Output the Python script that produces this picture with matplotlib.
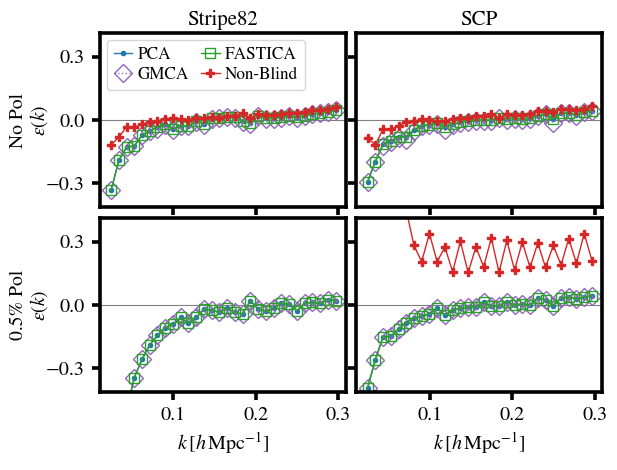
import numpy as np
import matplotlib
matplotlib.use('Agg')
import matplotlib.pyplot as plt

plt.rcParams['font.family'] = ['STIXGeneral', 'DejaVu Serif']
plt.rcParams['mathtext.fontset'] = 'stix'

k = [0.0245, 0.0339, 0.0433, 0.0527, 0.0621, 0.0715, 0.0808, 0.0902, 0.0996, 0.1090,
     0.1184, 0.1278, 0.1372, 0.1466, 0.1560, 0.1654, 0.1747, 0.1841, 0.1935, 0.2029,
     0.2123, 0.2217, 0.2311, 0.2405, 0.2499, 0.2593, 0.2686, 0.2780, 0.2874, 0.2968]

# Stripe82, no polarisation
s82_nopol_pca = [-0.333, -0.191, -0.128, -0.123, -0.071, -0.052, -0.033, -0.020, -0.040, -0.028,
                 -0.028, -0.005, -0.017, 0.008, 0.008, 0.014, 0.014, -0.005, -0.014, 0.019,
                 0.008, 0.008, 0.014, 0.019, 0.014, 0.019, 0.027, 0.035, 0.040, 0.047]
s82_nopol_gmca = [-0.333, -0.191, -0.128, -0.123, -0.071, -0.052, -0.040, -0.025, -0.048, -0.030,
                  -0.030, -0.008, -0.022, 0.005, 0.008, 0.014, 0.010, -0.010, -0.018, 0.019,
                  0.005, 0.005, 0.012, 0.019, 0.010, 0.019, 0.027, 0.035, 0.040, 0.047]
s82_nopol_ica = s82_nopol_pca
s82_nopol_nb = [-0.118, -0.081, -0.032, -0.034, -0.020, -0.008, -0.005, 0.003, 0.008, 0.003,
                -0.002, 0.008, 0.008, 0.014, 0.011, 0.019, 0.019, 0.035, 0.008, 0.027,
                0.024, 0.024, 0.030, 0.035, 0.035, 0.040, 0.046, 0.049, 0.051, 0.062]

# SCP, no polarisation
scp_nopol_pca = [-0.292, -0.197, -0.114, -0.098, -0.079, -0.079, -0.047, -0.027, -0.022, -0.016,
                 -0.032, -0.019, -0.011, -0.003, 0.000, 0.000, 0.000, 0.009, 0.005, 0.009,
                 0.005, 0.009, 0.020, 0.028, 0.005, 0.032, 0.032, 0.025, 0.036, 0.044]
scp_nopol_gmca = [-0.292, -0.197, -0.122, -0.105, -0.085, -0.095, -0.050, -0.030, -0.025, -0.020,
                  -0.048, -0.025, -0.015, -0.008, -0.003, -0.003, -0.003, 0.009, 0.002, 0.005,
                  0.002, 0.005, 0.020, 0.028, -0.012, 0.032, 0.032, 0.018, 0.036, 0.044]
scp_nopol_ica = scp_nopol_pca
scp_nopol_nb = [-0.085, -0.117, -0.044, -0.044, -0.027, -0.011, -0.006, 0.005, 0.000, -0.003,
                -0.003, 0.005, 0.009, 0.009, 0.020, 0.020, 0.028, 0.009, 0.028, 0.025,
                0.025, 0.028, 0.041, 0.041, 0.036, 0.050, 0.050, 0.047, 0.050, 0.066]

# Stripe82, 0.5% polarisation
s82_pol_pca = [-1.100, -0.750, -0.500, -0.343, -0.256, -0.188, -0.144, -0.107, -0.091, -0.059,
               -0.087, -0.059, -0.019, -0.024, -0.035, -0.016, -0.035, -0.043, 0.021, -0.019,
               -0.030, -0.016, 0.008, 0.005, -0.027, 0.008, 0.013, 0.008, 0.026, 0.021]
s82_pol_gmca = s82_pol_pca
s82_pol_ica = s82_pol_pca

# SCP, 0.5% polarisation
scp_pol_pca = [-0.393, -0.260, -0.151, -0.147, -0.115, -0.083, -0.063, -0.051, -0.043, -0.014,
               -0.048, -0.024, -0.016, -0.011, -0.008, 0.013, -0.005, -0.003, 0.016, 0.000,
               0.005, 0.000, 0.034, 0.024, -0.003, 0.034, 0.037, 0.029, 0.037, 0.045]
scp_pol_gmca = scp_pol_pca
scp_pol_ica = scp_pol_pca
scp_pol_nb = [1.500, 1.100, 0.850, 0.700, 0.580, 0.450, 0.282, 0.205, 0.338, 0.205,
              0.274, 0.157, 0.301, 0.154, 0.274, 0.181, 0.317, 0.154, 0.306, 0.165,
              0.298, 0.178, 0.293, 0.178, 0.282, 0.189, 0.314, 0.197, 0.338, 0.210]

panels = [
    [(s82_nopol_pca, s82_nopol_gmca, s82_nopol_ica, s82_nopol_nb),
     (scp_nopol_pca, scp_nopol_gmca, scp_nopol_ica, scp_nopol_nb)],
    [(s82_pol_pca, s82_pol_gmca, s82_pol_ica, None),
     (scp_pol_pca, scp_pol_gmca, scp_pol_ica, scp_pol_nb)],
]
titles = ['Stripe82', 'SCP']
row_labels = ['No Pol', '0.5% Pol']

fig, axes = plt.subplots(2, 2, figsize=(6.17, 4.70), dpi=100, sharex=True, sharey=True)
fig.subplots_adjust(left=0.162, right=0.9757, top=0.929, bottom=0.1666,
                    wspace=0.044, hspace=0.067)

for r in range(2):
    for c in range(2):
        ax = axes[r, c]
        pca, gmca, ica, nb = panels[r][c]
        ax.axhline(0, color='gray', lw=0.8, zorder=0)
        ax.plot(k, pca, '.-', color='tab:blue', lw=1, ms=6, label='PCA')
        ax.plot(k, gmca, 'D:', color='tab:purple', lw=1, ms=9, mfc='none', label='GMCA')
        ax.plot(k, ica, 's-', color='tab:green', lw=1, ms=6.5, mfc='none', label='FASTICA')
        if nb is not None:
            ax.plot(k, nb, 'P-', color='tab:red', lw=1, ms=6.3, label='Non-Blind')
        else:
            ax.plot([], [], 'P-', color='tab:red', lw=1, ms=6.3, label='Non-Blind')
        for sp in ax.spines.values():
            sp.set_linewidth(2.6)
        ax.tick_params(direction='out', length=6, width=2.6, labelsize=14.5, pad=5)
        if r == 0:
            ax.set_title(titles[c], fontsize=15)
        if r == 1:
            ax.set_xlabel(r'$k\,[h\,\mathrm{Mpc}^{-1}]$', fontsize=14.5)
        if c == 0:
            ax.set_ylabel(row_labels[r] + '\n' + r'$\epsilon(k)$', fontsize=14,
                          linespacing=1.05, labelpad=-3)

axes[0, 0].set_xlim(0.011, 0.309)
axes[0, 0].set_ylim(-0.41, 0.41)
axes[0, 0].set_xticks([0.1, 0.2, 0.3])
axes[0, 0].set_yticks([-0.3, 0.0, 0.3])
axes[0, 0].legend(loc='upper left', ncol=2, fontsize=12.3, handlelength=1.1,
                  handletextpad=0.3, columnspacing=0.7, borderpad=0.4,
                  labelspacing=0.25, borderaxespad=0.4)

fig.savefig('out.png', dpi=100)
